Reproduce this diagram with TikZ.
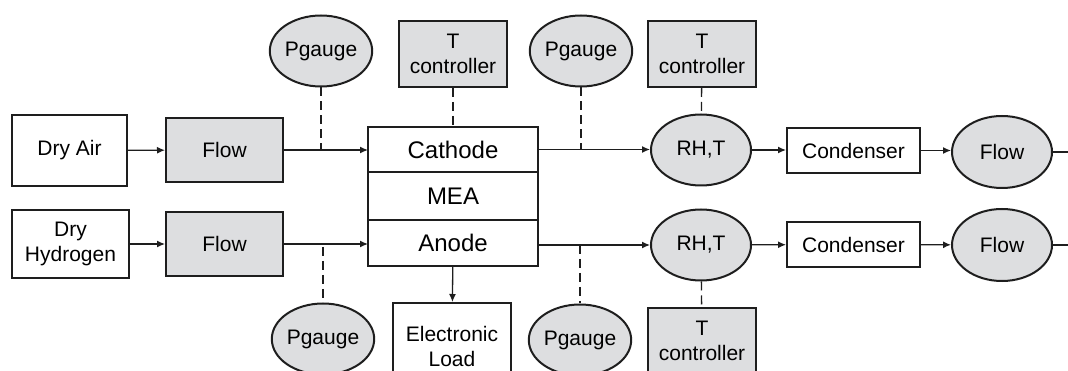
\documentclass[tikz,border=0pt]{standalone}
\usepackage{fontspec}
\setmainfont{Liberation Sans}
\usetikzlibrary{positioning, arrows.meta, shapes.geometric, calc}
\definecolor{unitcol}{RGB}{221,222,224}
\definecolor{linecol}{RGB}{30,30,30}

\begin{document}
\begin{tikzpicture}[
			x=1pt, y=-1pt,
			font=\fontsize{21}{25}\selectfont,
			box/.style={
				draw=linecol,
				rectangle,
				line width=2pt,
				fill=white,
				align=center,
				inner sep=0pt
			},
			unit/.style={
				box,
				fill=unitcol
			},
			gauge/.style={
				draw=linecol,
				ellipse,
				line width=2pt,
				fill=unitcol,
				inner sep=0pt,
				minimum width=99pt,
				minimum height=71pt
			},
			cell/.style={
				box,
				outer sep=0pt,
				minimum width=170pt,
				font=\fontsize{24}{28}\selectfont
			},
			every edge/.style={
				draw=linecol,
				-{Latex[length=8pt,width=7pt]},
				line width=1.3pt
			},
			sensor/.style={
				draw=linecol,
				line width=1.3pt,
				dash pattern=on 9pt off 5pt
			}
			]
			\useasboundingbox (0,0) rectangle (1068,371);
			
			% Feed gases
			\node[box, minimum width=115pt, minimum height=71pt] (dryair) at (69.5,150.5) {Dry Air};
			\node[box, minimum width=117pt, minimum height=68pt] (dryhyd) at (70.5,244) {Dry\\Hydrogen};
			\node[unit, minimum width=117pt, minimum height=64pt] (flowA) at (224.5,150) {Flow};
			\node[unit, minimum width=117pt, minimum height=64pt] (flowH) at (224.5,244) {Flow};
			
			% Cell stack
			\node[cell, minimum height=45pt] (cathode) at (453,149.5) {Cathode};
			\node[cell, minimum height=48pt] (mea) [below=0pt of cathode] {MEA};
			\node[cell, minimum height=46pt] (anode) [below=0pt of mea] {Anode};
			\node[box, minimum width=118pt, minimum height=86pt] (load) at (452,346) {Electronic\\Load};
			
			% Gauges and controllers
			\node[gauge] (pgA) at (321,51) {Pgauge};
			\node[gauge] (pgH) at (323,339) {Pgauge};
			\node[gauge] (pgAout) at (581,51) {Pgauge};
			\node[gauge] (pgHout) at (580,340) {Pgauge};
			\node[unit, minimum width=108pt, minimum height=66pt] (tcCell) at (453,54) {T\\controller};
			\node[unit, minimum width=108pt, minimum height=66pt] (tcA) at (702,54) {T\\controller};
			\node[unit, minimum width=108pt, minimum height=66pt] (tcH) at (702,341) {T\\controller};
			
			% Outlet lines
			\node[gauge, minimum width=100pt] (rhA) at (701,150) {RH,T};
			\node[gauge, minimum width=100pt] (rhH) at (701,245) {RH,T};
			\node[box, minimum width=133pt, minimum height=45pt] (condA) at (853.5,150.5) {Condenser};
			\node[box, minimum width=133pt, minimum height=45pt] (condH) at (853.5,244.5) {Condenser};
			\node[gauge, minimum width=100pt, minimum height=72pt] (flowoutA) at (1002,152) {Flow};
			\node[gauge, minimum width=100pt, minimum height=72pt] (flowoutH) at (1002,245) {Flow};
			\coordinate (exitA) at (1068,152);
			\coordinate (exitH) at (1068,245);
			
			% Gas flow
			\path
			(dryair) edge (flowA)
			(flowA) edge (flowA -| cathode.west)
			(dryhyd) edge (flowH)
			(flowH) edge (flowH -| anode.west)
			(cathode.east) edge (cathode.east -| rhA.west)
			(anode.east |- rhH) edge (rhH)
			(rhA) edge (rhA -| condA.west)
			(condA) edge (condA -| flowoutA.west)
			(rhH) edge (condH)
			(condH) edge (flowoutH)
			(anode) edge (load);
			\draw[line width=1.3pt, draw=linecol] (flowoutA) -- (exitA);
			\draw[line width=1.3pt, draw=linecol] (flowoutH) -- (exitH);
			
			% Sensor taps
			\draw[sensor] (pgA.south) -- (pgA.south |- flowA.east);
			\draw[sensor] (pgAout.south) -- (pgAout.south |- cathode.east);
			\draw[sensor, shorten <=4pt] (pgH.north |- anode.west) -- (pgH.north);
			\draw[sensor] (pgHout.north |- rhH.west) -- (pgHout.north);
			\draw[sensor] (tcCell) -- (cathode);
			\draw[sensor] (tcA) -- (rhA);
			\draw[sensor] (rhH) -- (tcH);
		\end{tikzpicture}
\end{document}
